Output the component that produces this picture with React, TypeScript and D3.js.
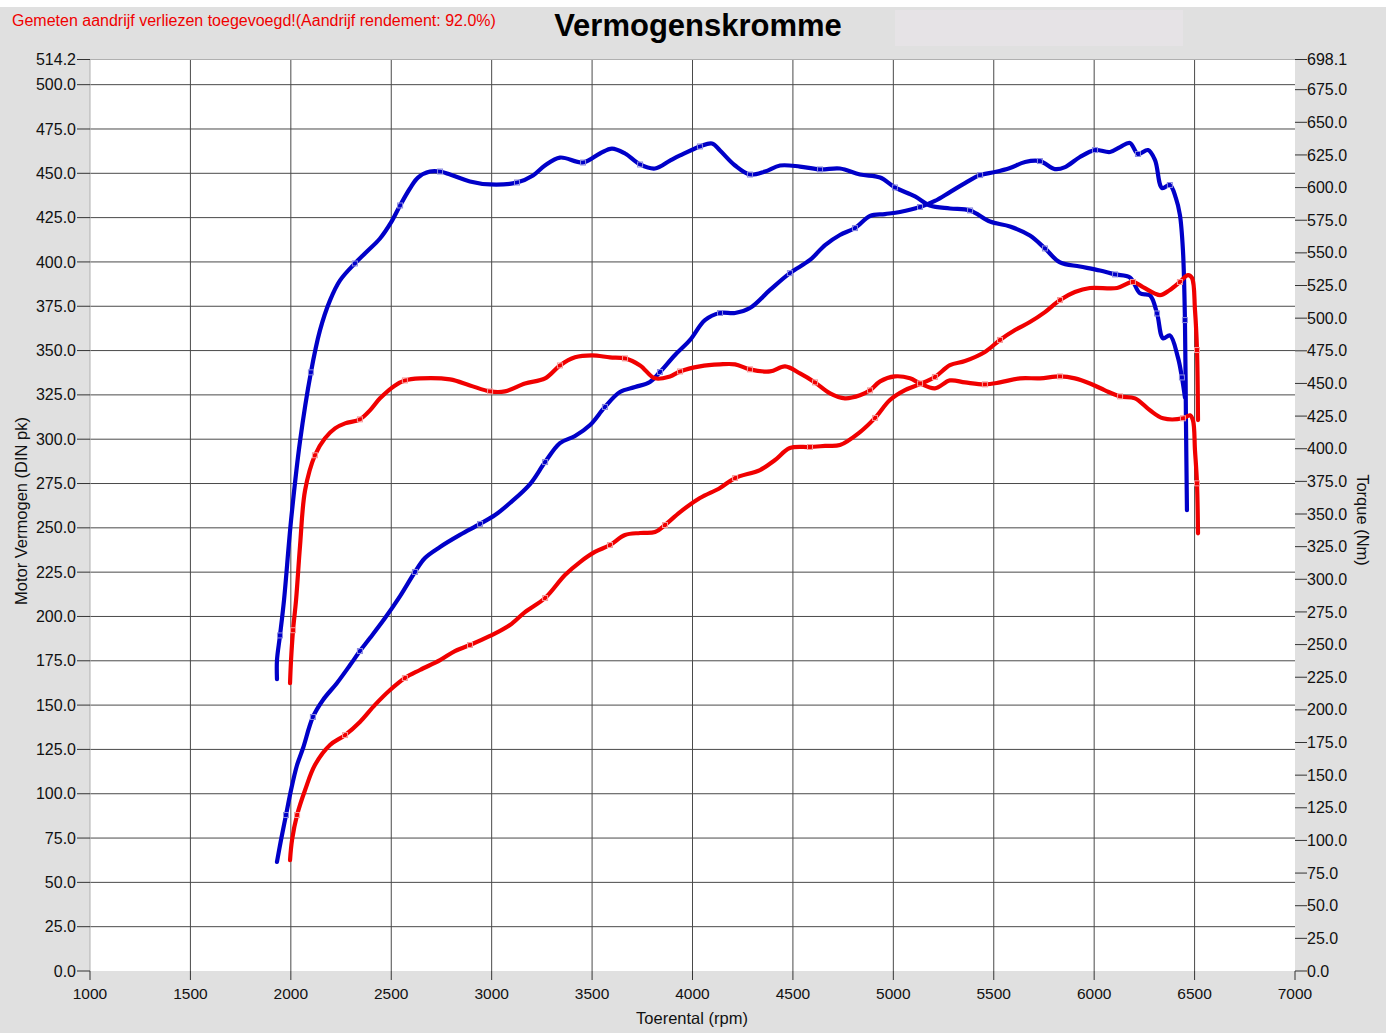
import React from 'react'
import * as d3 from 'd3'

// rpm, pk (left axis)
const bluePower: [number, number][] = [
  [1931, 61.5], [1951, 73.9], [1976, 88], [2001, 102.1], [2031, 116.2], [2061, 125.8], [2110, 143.3],
  [2160, 152.9], [2230, 162.5], [2295, 172.6], [2344, 180.5], [2394, 187.8], [2469, 199.1], [2544, 211.5],
  [2618, 225.1], [2668, 233], [2743, 239.2], [2842, 246], [2942, 252.2], [3017, 257.2], [3091, 264],
  [3191, 274.7], [3266, 287.1], [3340, 297.8], [3415, 301.8], [3490, 308], [3564, 318.2], [3639, 326.6],
  [3714, 329.4], [3788, 332.3], [3838, 337.9], [3913, 347.5], [3988, 356], [4062, 367.2], [4137, 371.2],
  [4212, 371.2], [4286, 374], [4386, 384.2], [4485, 393.7], [4585, 401.1], [4660, 409.5], [4734, 415.2],
  [4809, 419.1], [4884, 425.9], [4958, 427], [5033, 428.2], [5133, 431], [5207, 434.4], [5282, 439.4],
  [5357, 444.5], [5432, 449], [5506, 450.7], [5581, 453], [5656, 456.4], [5730, 456.9], [5805, 452.4],
  [5855, 453.5], [5929, 459.2], [6004, 463.1], [6079, 462], [6129, 464.8], [6178, 467.1], [6218, 460.9],
  [6268, 463.1], [6303, 457.5], [6338, 441.7], [6377, 443.4], [6407, 436], [6427, 426.5], [6442, 406.7],
  [6452, 367.2], [6457, 310.8], [6462, 260],
]

// rpm, Nm (right axis)
const blueTorque: [number, number][] = [
  [1931, 223.5], [1931, 238], [1946, 257], [1966, 284], [2001, 345], [2046, 406], [2100, 458.5],
  [2145, 490.6], [2195, 513.6], [2245, 528.9], [2319, 541.9], [2379, 551], [2444, 561], [2499, 573.3],
  [2544, 586.3], [2593, 599.3], [2633, 607.7], [2693, 612.3], [2743, 612.3], [2793, 610], [2892, 604.7],
  [2992, 602.4], [3126, 603.9], [3206, 609.3], [3265, 616.9], [3340, 623], [3455, 619.2], [3539, 626.1],
  [3599, 629.9], [3664, 626.1], [3739, 617.7], [3813, 614.6], [3888, 620.7], [3938, 624.6], [4037, 631.5],
  [4097, 633.8], [4137, 628.4], [4212, 616.9], [4286, 610], [4361, 612.3], [4436, 616.9], [4535, 616.1],
  [4635, 613.9], [4734, 614.6], [4834, 610], [4934, 607.7], [5008, 600.1], [5108, 593.2], [5182, 586.3],
  [5282, 584], [5382, 582.5], [5481, 574], [5581, 570.2], [5680, 563.3], [5755, 553.4], [5830, 542.7],
  [5929, 539.6], [6029, 536.5], [6104, 533.5], [6178, 531.2], [6228, 519], [6278, 517.4], [6313, 503.6],
  [6343, 484.5], [6377, 486.8], [6417, 470], [6437, 454.6], [6452, 439.3],
]

const redPower: [number, number][] = [
  [1996, 62.6], [2006, 73.9], [2031, 88], [2071, 102.1], [2120, 116.2], [2195, 127.5], [2270, 133.1],
  [2344, 140.5], [2419, 150.1], [2494, 158.5], [2568, 165.3], [2643, 169.8], [2743, 175.4], [2817, 180.5],
  [2892, 183.9], [2992, 189], [3091, 195.2], [3166, 202.5], [3266, 210.4], [3365, 223.4], [3440, 230.7],
  [3514, 236.4], [3589, 240.3], [3664, 246], [3739, 247.1], [3813, 247.6], [3863, 251.6], [3938, 258.9],
  [4037, 266.8], [4137, 272.5], [4212, 278.1], [4336, 282.6], [4411, 288.3], [4485, 295], [4585, 295.6],
  [4660, 296.2], [4734, 296.7], [4834, 304], [4909, 312], [4983, 322.1], [5058, 327.7], [5133, 331.1],
  [5207, 335.1], [5282, 341.8], [5357, 344.1], [5456, 349.2], [5531, 356], [5606, 361.6], [5680, 366.1],
  [5755, 371.7], [5830, 378.5], [5904, 383], [5979, 385.3], [6114, 385.3], [6193, 388.7], [6243, 385.8],
  [6328, 381.3], [6377, 384.2], [6427, 388.7], [6467, 392.6], [6487, 391], [6502, 372.9], [6512, 350.3],
  [6517, 310.8],
]

const redTorque: [number, number][] = [
  [1996, 220.4], [2001, 238], [2011, 261], [2026, 284], [2046, 326], [2071, 368.2], [2120, 395],
  [2170, 408], [2220, 415.6], [2270, 419.4], [2344, 422.5], [2394, 429.4], [2444, 438.6], [2519, 448.5],
  [2568, 452.3], [2643, 453.9], [2793, 453.1], [2892, 448.5], [2992, 443.9], [3066, 443.9], [3166, 450],
  [3266, 453.9], [3340, 463.8], [3415, 470], [3500, 471.5], [3589, 470], [3664, 469.2], [3739, 463.8],
  [3813, 453.9], [3888, 455.4], [3938, 459.2], [4037, 463.1], [4137, 464.6], [4212, 464.6], [4286, 460.8],
  [4386, 459.2], [4461, 463.1], [4535, 457.7], [4610, 450.8], [4685, 442.4], [4759, 438.6], [4834, 440.9],
  [4884, 444.7], [4934, 451.6], [5008, 455.4], [5083, 453.9], [5133, 450], [5207, 446.2], [5282, 452.3],
  [5357, 450.8], [5456, 449.3], [5531, 450.8], [5631, 453.9], [5730, 453.9], [5830, 455.4], [5904, 453.9],
  [5979, 450], [6054, 444.7], [6129, 440.1], [6203, 438.6], [6278, 429.4], [6343, 423.3], [6442, 423.3],
  [6477, 425.6], [6492, 421.7], [6502, 398.8], [6512, 373.5], [6517, 335.2],
]

const rpmTicks = [1000, 1500, 2000, 2500, 3000, 3500, 4000, 4500, 5000, 5500, 6000, 6500, 7000]
const pkTicks = [0, 25, 50, 75, 100, 125, 150, 175, 200, 225, 250, 275, 300, 325, 350, 375, 400, 425, 450, 475, 500]
const pkMax = 514.2
const nmTicks = [0, 25, 50, 75, 100, 125, 150, 175, 200, 225, 250, 275, 300, 325, 350, 375, 400, 425, 450, 475, 500, 525, 550, 575, 600, 625, 650, 675]
const nmMax = 698.1

const W = 1386
const H = 1033
const L = 90, R = 1295, T = 59.5, B = 971
const FONT = 'Liberation Sans, Arial, sans-serif'

export default function App() {
  const x = d3.scaleLinear().domain([1000, 7000]).range([L, R])
  const yL = d3.scaleLinear().domain([0, pkMax]).range([B, T])
  const yR = d3.scaleLinear().domain([0, nmMax]).range([B, T])

  const mk = (y: d3.ScaleLinear<number, number>) =>
    d3.line<[number, number]>().x(d => x(d[0])).y(d => y(d[1])).curve(d3.curveCatmullRom.alpha(0.5))

  const series = [
    { data: bluePower, y: yL, color: '#0000c8', mark: '#8a8ae0' },
    { data: blueTorque, y: yR, color: '#0000c8', mark: '#8a8ae0' },
    { data: redPower, y: yL, color: '#f00000', mark: '#f79a9a' },
    { data: redTorque, y: yR, color: '#f00000', mark: '#f79a9a' },
  ]

  return (
    <div style={{ position: 'absolute', left: 0, top: 0 }}>
      <svg width={W} height={H} style={{ display: 'block' }} fontFamily={FONT}>
        <rect x={0} y={0} width={W} height={H} fill="#e0e0e0" />
        <rect x={0} y={0} width={W} height={7} fill="#ffffff" />
        <rect x={895} y={10} width={288} height={36} fill="#e6e3e6" />
        <text x={12} y={26} fontSize={16} fill="#f00000">Gemeten aandrijf verliezen toegevoegd!(Aandrijf rendement: 92.0%)</text>
        <text x={698} y={36} fontSize={31} fontWeight="bold" textAnchor="middle" fill="#000">Vermogenskromme</text>

        <rect x={L} y={T} width={R - L} height={B - T} fill="#ffffff" />
        {/* grid */}
        {pkTicks.filter(t => t > 0).map(t => (
          <line key={'h' + t} x1={L} x2={R} y1={yL(t)} y2={yL(t)} stroke="#4a4a4a" strokeWidth={1} />
        ))}
        {rpmTicks.filter(t => t > 1000 && t < 7000).map(t => (
          <line key={'v' + t} x1={x(t)} x2={x(t)} y1={T} y2={B} stroke="#4a4a4a" strokeWidth={1} />
        ))}
        <line x1={L} x2={L} y1={T} y2={B} stroke="#b0b0b0" />
        <line x1={L} x2={R} y1={T} y2={T} stroke="#b0b0b0" />

        {/* left axis */}
        {[...pkTicks, pkMax].map(t => (
          <g key={'l' + t}>
            <line x1={L - 13} x2={L} y1={yL(t)} y2={yL(t)} stroke="#333" />
            <text x={L - 14} y={yL(t)} dy="0.35em" fontSize={16} textAnchor="end" fill="#111">{t.toFixed(1)}</text>
          </g>
        ))}
        {/* right axis */}
        {[...nmTicks, nmMax].map(t => (
          <g key={'r' + t}>
            <line x1={R} x2={R + 12} y1={yR(t)} y2={yR(t)} stroke="#333" />
            <text x={R + 12} y={yR(t)} dy="0.35em" fontSize={16} textAnchor="start" fill="#111">{t.toFixed(1)}</text>
          </g>
        ))}
        {/* bottom axis */}
        {rpmTicks.map(t => (
          <g key={'b' + t}>
            <line x1={x(t)} x2={x(t)} y1={B} y2={B + 9} stroke="#333" />
            <text x={x(t)} y={999} fontSize={15.5} textAnchor="middle" fill="#111">{t}</text>
          </g>
        ))}

        <text transform="translate(27,511) rotate(-90)" fontSize={16.5} textAnchor="middle" fill="#111">Motor Vermogen (DIN pk)</text>
        <text transform="translate(1357,520) rotate(90)" fontSize={16.5} textAnchor="middle" fill="#111">Torque (Nm)</text>
        <text x={692} y={1024} fontSize={16.5} textAnchor="middle" fill="#111">Toerental (rpm)</text>

        {series.map((s, i) => (
          <g key={'s' + i}>
            <path d={mk(s.y)(s.data) || ''} fill="none" stroke={s.color} strokeWidth={4.2} strokeLinejoin="round" strokeLinecap="round" />
            {s.data.filter((_, j) => j % 4 === 2).map((d, j) => (
              <rect key={j} x={x(d[0]) - 2.5} y={s.y(d[1]) - 2.5} width={5} height={5} fill="none" stroke={s.mark} strokeWidth={1} />
            ))}
          </g>
        ))}
      </svg>
    </div>
  )
}
